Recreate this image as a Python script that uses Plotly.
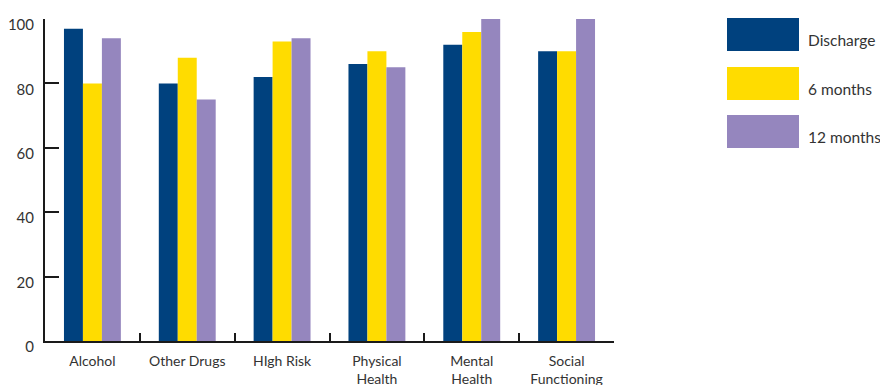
import plotly.graph_objects as go

categories = ["Alcohol", "Other Drugs", "HIgh Risk", "Physical<br>Health", "Mental<br>Health", "Social<br>Functioning"]
discharge = [97, 80, 82, 86, 92, 90]
six_months = [80, 88, 93, 90, 96, 90]
twelve_months = [94, 75, 94, 85, 100, 100]
series_names = ["Discharge", "6 months", "12 months"]
colors = ["#00417E", "#FFDC00", "#9586BE"]
y_ticks = [0, 20, 40, 60, 80, 100]

W, H = 880, 385
L, R, T, B = 45, 266, 19, 44
pw, ph = W - L - R, H - T - B

fig = go.Figure()
for name, vals, col in zip(series_names, [discharge, six_months, twelve_months], colors):
    fig.add_trace(go.Bar(x=categories, y=vals, name=name, marker=dict(color=col, line=dict(width=0)),
                         showlegend=False))

font_family = "Lato, 'Open Sans', sans-serif"
axis_col = "#1a1a1a"

# custom legend (big swatches)
shapes = []
annotations = []
leg_tops = [18, 67, 115]
for name, col, top in zip(series_names, colors, leg_tops):
    x0, x1 = 727, 799
    y0, y1 = top, top + 33
    shapes.append(dict(type="rect", xref="paper", yref="paper",
                       x0=(x0 - L) / pw, x1=(x1 - L) / pw,
                       y0=(H - B - y1) / ph, y1=(H - B - y0) / ph,
                       fillcolor=col, line=dict(width=0)))
    annotations.append(dict(xref="paper", yref="paper", x=(806 - L) / pw, y=(H - B - (top + 22)) / ph,
                            text=name, showarrow=False, xanchor="left", yanchor="middle",
                            font=dict(family=font_family, size=15.5, color="#333333")))

fig.update_layout(
    width=W, height=H,
    margin=dict(l=L, r=R, t=T, b=B, pad=0),
    paper_bgcolor="white", plot_bgcolor="white",
    barmode="group", bargap=0.4, bargroupgap=0,
    shapes=shapes, annotations=annotations,
    font=dict(family=font_family, color="#333333"),
    xaxis=dict(
        type="category", showgrid=False, showline=True, linecolor=axis_col, linewidth=2,
        ticks="inside", tickson="boundaries", ticklen=8, tickwidth=2, tickcolor=axis_col,
        tickfont=dict(family=font_family, size=14, color="#333333"),
        ticklabelstandoff=6, zeroline=False, fixedrange=True, automargin=False,
    ),
    yaxis=dict(
        range=[0, 100], tickvals=y_ticks, showgrid=False, showline=True, linecolor=axis_col, linewidth=2,
        ticks="inside", ticklen=14, tickwidth=2, tickcolor=axis_col,
        tickfont=dict(family=font_family, size=15, color="#333333"),
        ticklabelstandoff=6, ticklabelshift=6, zeroline=False, fixedrange=True, automargin=False,
    ),
)

fig.write_html("out.html", config={"displayModeBar": False})
